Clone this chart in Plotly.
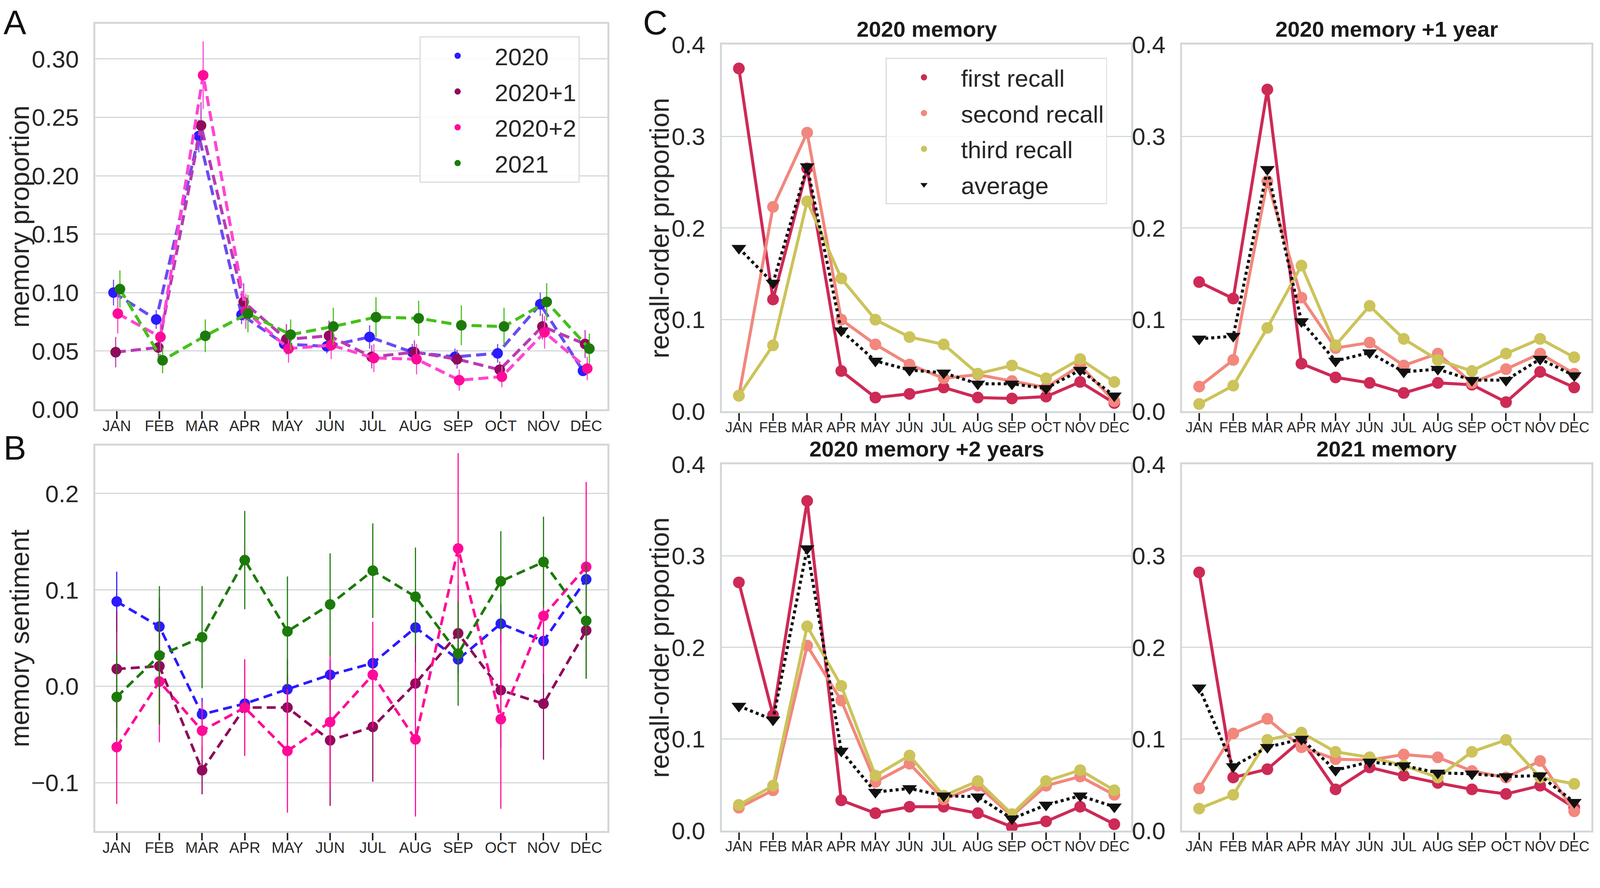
import plotly.graph_objects as go

months = ["JAN", "FEB", "MAR", "APR", "MAY", "JUN", "JUL", "AUG", "SEP", "OCT", "NOV", "DEC"]
month_idx = list(range(12))

# panel A: memory proportion per month (with error)
prop_2020 = [0.100, 0.077, 0.234, 0.081, 0.056, 0.054, 0.062, 0.049, 0.045, 0.048, 0.090, 0.033]
prop_2020_err = [0.011, 0.008, 0.014, 0.008, 0.006, 0.006, 0.010, 0.007, 0.007, 0.008, 0.010, 0.004]
prop_2020p1 = [0.049, 0.053, 0.243, 0.092, 0.060, 0.063, 0.045, 0.049, 0.043, 0.034, 0.071, 0.056]
prop_2020p1_err = [0.013, 0.010, 0.020, 0.016, 0.013, 0.013, 0.010, 0.010, 0.008, 0.007, 0.011, 0.012]
prop_2020p2 = [0.082, 0.062, 0.286, 0.084, 0.052, 0.055, 0.044, 0.043, 0.025, 0.028, 0.066, 0.035]
prop_2020p2_err = [0.017, 0.012, 0.029, 0.015, 0.012, 0.012, 0.012, 0.013, 0.009, 0.009, 0.014, 0.010]
prop_2021 = [0.103, 0.042, 0.063, 0.082, 0.064, 0.071, 0.079, 0.078, 0.072, 0.071, 0.092, 0.052]
prop_2021_err = [0.016, 0.011, 0.014, 0.016, 0.013, 0.016, 0.017, 0.015, 0.017, 0.016, 0.016, 0.013]

# panel B: memory sentiment per month (with error)
sent_2020 = [0.088, 0.062, -0.029, -0.018, -0.003, 0.012, 0.024, 0.061, 0.028, 0.065, 0.047, 0.111]
sent_2020_err = [0.031, 0.030, 0.017, 0.015, 0.015, 0.015, 0.015, 0.020, 0.015, 0.020, 0.020, 0.020]
sent_2020p1 = [0.018, 0.021, -0.087, -0.022, -0.022, -0.056, -0.042, 0.003, 0.055, -0.004, -0.018, 0.058]
sent_2020p1_err = [0.060, 0.060, 0.025, 0.050, 0.050, 0.068, 0.057, 0.055, 0.050, 0.060, 0.058, 0.050]
sent_2020p2 = [-0.063, 0.005, -0.046, -0.022, -0.067, -0.037, 0.012, -0.055, 0.143, -0.034, 0.073, 0.124]
sent_2020p2_err = [0.059, 0.063, 0.030, 0.050, 0.064, 0.070, 0.055, 0.080, 0.099, 0.093, 0.060, 0.088]
sent_2021 = [-0.011, 0.032, 0.051, 0.131, 0.057, 0.085, 0.120, 0.093, 0.034, 0.109, 0.129, 0.068]
sent_2021_err = [0.045, 0.072, 0.053, 0.051, 0.057, 0.053, 0.049, 0.051, 0.054, 0.052, 0.047, 0.060]

# panel C: recall-order proportion
c2020_first = [0.374, 0.122, 0.265, 0.044, 0.015, 0.019, 0.026, 0.015, 0.014, 0.016, 0.032, 0.009]
c2020_second = [0.017, 0.223, 0.304, 0.100, 0.073, 0.051, 0.036, 0.040, 0.033, 0.026, 0.050, 0.011]
c2020_third = [0.017, 0.072, 0.229, 0.145, 0.100, 0.081, 0.073, 0.041, 0.050, 0.036, 0.057, 0.032]
c2020_avg = [0.178, 0.140, 0.267, 0.088, 0.055, 0.045, 0.042, 0.030, 0.030, 0.025, 0.045, 0.017]

c2020p1_first = [0.141, 0.123, 0.351, 0.052, 0.037, 0.031, 0.020, 0.031, 0.029, 0.010, 0.043, 0.026]
c2020p1_second = [0.027, 0.056, 0.251, 0.124, 0.069, 0.075, 0.050, 0.063, 0.031, 0.046, 0.063, 0.041]
c2020p1_third = [0.008, 0.028, 0.091, 0.159, 0.072, 0.115, 0.079, 0.056, 0.044, 0.063, 0.079, 0.059]
c2020p1_avg = [0.079, 0.082, 0.264, 0.098, 0.055, 0.064, 0.043, 0.046, 0.034, 0.034, 0.057, 0.039]

c2020p2_first = [0.271, 0.126, 0.360, 0.033, 0.019, 0.026, 0.026, 0.019, 0.004, 0.010, 0.026, 0.007]
c2020p2_second = [0.025, 0.044, 0.202, 0.142, 0.053, 0.073, 0.034, 0.049, 0.016, 0.049, 0.059, 0.039]
c2020p2_third = [0.028, 0.049, 0.223, 0.158, 0.060, 0.082, 0.038, 0.054, 0.018, 0.054, 0.066, 0.044]
c2020p2_avg = [0.136, 0.121, 0.308, 0.087, 0.042, 0.046, 0.038, 0.037, 0.013, 0.028, 0.038, 0.026]

c2021_first = [0.282, 0.058, 0.067, 0.099, 0.045, 0.069, 0.060, 0.052, 0.045, 0.040, 0.049, 0.025]
c2021_second = [0.046, 0.106, 0.122, 0.091, 0.078, 0.077, 0.083, 0.080, 0.065, 0.058, 0.076, 0.021]
c2021_third = [0.024, 0.039, 0.099, 0.107, 0.086, 0.080, 0.071, 0.058, 0.086, 0.099, 0.058, 0.051]
c2021_avg = [0.156, 0.070, 0.091, 0.100, 0.066, 0.075, 0.071, 0.063, 0.062, 0.059, 0.060, 0.031]

# the page renders slightly enlarged and the body has an 8px margin,
# so everything below is given in target-image pixels and converted here
S = 1.032
PAD = 8
W = int(4220 / S) - 18
H = int(2274 / S) - 17


def sz(v):
    return v / S


def dom_x(l, r):
    return [(l / S - PAD) / W, (r / S - PAD) / W]


def dom_y(t, b):
    return [1 - (b / S - PAD) / H, 1 - (t / S - PAD) / H]


def px_x(x):
    return (x / S - PAD) / W


def px_y(y):
    return 1 - (y / S - PAD) / H


FONT = "Liberation Sans, Arial, sans-serif"
TXT = "#262626"
FRAME = "#d3d8d9"

year_dark = {"2020": "#2b1bff", "2020+1": "#8f0b5b", "2020+2": "#ff0a98", "2021": "#1c7a0a"}
year_light = {"2020": "#6a4cf2", "2020+1": "#b93bb5", "2020+2": "#ff45d5", "2021": "#45c01a"}
recall_col = {"first recall": "#cd2a56", "second recall": "#f2877d",
              "third recall": "#ccc35a", "average": "#111111"}

fig = go.Figure()

# ---- panel A
series_a = [("2020", prop_2020, prop_2020_err, -0.075),
            ("2020+1", prop_2020p1, prop_2020p1_err, -0.025),
            ("2020+2", prop_2020p2, prop_2020p2_err, 0.025),
            ("2021", prop_2021, prop_2021_err, 0.075)]
dash_a = "%dpx,%dpx" % (round(sz(27)), round(sz(13)))
for name, vals, errs, off in series_a:
    xs = [i + off for i in month_idx]
    fig.add_trace(go.Scatter(x=xs, y=vals, mode="lines", showlegend=False, hoverinfo="skip",
                             legendgroup="a" + name,
                             line=dict(color=year_light[name], width=sz(8), dash=dash_a),
                             xaxis="x", yaxis="y"))
    fig.add_trace(go.Scatter(x=xs, y=vals, mode="markers", name=name, legend="legend",
                             legendgroup="a" + name,
                             marker=dict(color=year_dark[name], size=sz(28)),
                             error_y=dict(type="data", array=errs, color=year_light[name],
                                          thickness=sz(3), width=0),
                             xaxis="x", yaxis="y"))

# ---- panel B
series_b = [("2020", sent_2020, sent_2020_err),
            ("2020+1", sent_2020p1, sent_2020p1_err),
            ("2020+2", sent_2020p2, sent_2020p2_err),
            ("2021", sent_2021, sent_2021_err)]
dash_b = "%dpx,%dpx" % (round(sz(24)), round(sz(13)))
for name, vals, errs in series_b:
    fig.add_trace(go.Scatter(x=month_idx, y=vals, mode="lines", showlegend=False, hoverinfo="skip",
                             line=dict(color=year_dark[name], width=sz(7), dash=dash_b),
                             xaxis="x2", yaxis="y2"))
    fig.add_trace(go.Scatter(x=month_idx, y=vals, mode="markers", showlegend=False,
                             marker=dict(color=year_dark[name], size=sz(28)),
                             error_y=dict(type="data", array=errs, color=year_dark[name],
                                          thickness=sz(3), width=0),
                             xaxis="x2", yaxis="y2"))

# ---- panel C
panels_c = [("x3", "y3", [c2020_first, c2020_second, c2020_third, c2020_avg]),
            ("x4", "y4", [c2020p1_first, c2020p1_second, c2020p1_third, c2020p1_avg]),
            ("x5", "y5", [c2020p2_first, c2020p2_second, c2020p2_third, c2020p2_avg]),
            ("x6", "y6", [c2021_first, c2021_second, c2021_third, c2021_avg])]
names_c = ["first recall", "second recall", "third recall", "average"]
for k, (xa, ya, group) in enumerate(panels_c):
    for name, vals in zip(names_c, group):
        is_avg = name == "average"
        fig.add_trace(go.Scatter(x=month_idx, y=vals, mode="lines", showlegend=False, hoverinfo="skip",
                                 legendgroup="c" + name,
                                 line=dict(color=recall_col[name], width=sz(8),
                                           dash="dot" if is_avg else "solid"),
                                 xaxis=xa, yaxis=ya))
        fig.add_trace(go.Scatter(x=month_idx, y=vals, mode="markers", name=name,
                                 showlegend=(k == 0), legend="legend2", legendgroup="c" + name,
                                 marker=dict(color=recall_col[name], size=sz(34 if is_avg else 31),
                                             symbol="triangle-down" if is_avg else "circle"),
                                 xaxis=xa, yaxis=ya))


def xax(domain, anchor, fsize):
    return dict(domain=domain, anchor=anchor, range=[-0.5, 11.5], tickvals=month_idx, ticktext=months,
                ticks="outside", ticklen=sz(20), tickwidth=sz(4), tickcolor="#222222",
                tickfont=dict(size=sz(fsize), color=TXT), ticklabelstandoff=-15,
                showgrid=False, zeroline=False,
                showline=True, mirror=True, linecolor=FRAME, linewidth=sz(5), automargin=False)


def yax(domain, anchor, rng, tickvals, fmt):
    return dict(domain=domain, anchor=anchor, range=rng, tickvals=tickvals, tickformat=fmt,
                tickfont=dict(size=sz(64), color=TXT), ticklabelstandoff=int(sz(26)),
                showgrid=True, gridcolor=FRAME, gridwidth=sz(3), zeroline=False,
                showline=True, mirror=True, linecolor=FRAME, linewidth=sz(5), automargin=False)


ax_a, ay_a = dom_x(252, 1605), dom_y(63, 1082)
ay_b = dom_y(1177, 2196)
cx_l, cx_r = dom_x(1907, 2989), dom_x(3123, 4204)
cy_t, cy_b = dom_y(118, 1087), dom_y(1227, 2195)

c_ticks = [0, 0.1, 0.2, 0.3, 0.4]
legend_style = dict(xanchor="left", yanchor="top", bgcolor="rgba(255,255,255,0.85)",
                    bordercolor="#dcdcdc", borderwidth=sz(3), font=dict(size=sz(64), color=TXT),
                    itemwidth=180, tracegroupgap=8)
fig.update_layout(
    width=W, height=H,
    margin=dict(l=0, r=0, t=0, b=0),
    paper_bgcolor="white", plot_bgcolor="white",
    font=dict(family=FONT, color=TXT),
    xaxis=xax(ax_a, "y", 40),
    yaxis=yax(ay_a, "x", [0, 0.33], [0, 0.05, 0.10, 0.15, 0.20, 0.25, 0.30], ".2f"),
    xaxis2=xax(ax_a, "y2", 40),
    yaxis2=yax(ay_b, "x2", [-0.15, 0.25], [-0.1, 0, 0.1, 0.2], ".1f"),
    xaxis3=xax(cx_l, "y3", 38),
    yaxis3=yax(cy_t, "x3", [0, 0.4], c_ticks, ".1f"),
    xaxis4=xax(cx_r, "y4", 38),
    yaxis4=yax(cy_t, "x4", [0, 0.4], c_ticks, ".1f"),
    xaxis5=xax(cx_l, "y5", 38),
    yaxis5=yax(cy_b, "x5", [0, 0.4], c_ticks, ".1f"),
    xaxis6=xax(cx_r, "y6", 38),
    yaxis6=yax(cy_b, "x6", [0, 0.4], c_ticks, ".1f"),
    legend=dict(x=px_x(1108), y=px_y(96), **legend_style),
    legend2=dict(x=px_x(2340), y=px_y(153), **legend_style),
)

# y-axis titles, centred on each panel's vertical extent
y_titles = [("memory proportion", 52, ay_a), ("memory sentiment", 52, ay_b),
            ("recall-order proportion", 1743, cy_t), ("recall-order proportion", 1743, cy_b)]
for text, tx, dy in y_titles:
    fig.add_annotation(text=text, x=px_x(tx), y=(dy[0] + dy[1]) / 2, textangle=-90,
                       xref="paper", yref="paper", xanchor="center", yanchor="middle",
                       showarrow=False, borderpad=0, font=dict(size=sz(70), color=TXT))

# subplot titles
titles_c = [("2020 memory", cx_l, cy_t), ("2020 memory +1 year", cx_r, cy_t),
            ("2020 memory +2 years", cx_l, cy_b), ("2021 memory", cx_r, cy_b)]
for text, dx, dy in titles_c:
    fig.add_annotation(text="<b>" + text + "</b>", x=(dx[0] + dx[1]) / 2, y=dy[1] + 6 / H,
                       xref="paper", yref="paper", xanchor="center", yanchor="bottom",
                       showarrow=False, font=dict(size=sz(58), color="#1a1a1a"))

# panel letters, kept just inside the page edges
letter_font = dict(size=sz(90), color="#111111")
fig.add_annotation(text="A", x=0, y=1, xref="paper", yref="paper", xanchor="left", yanchor="top",
                   showarrow=False, borderpad=0, font=letter_font)
fig.add_annotation(text="B", x=0, y=px_y(1183), xref="paper", yref="paper", xanchor="left",
                   yanchor="middle", showarrow=False, borderpad=0, font=letter_font)
fig.add_annotation(text="C", x=px_x(1731), y=1, xref="paper", yref="paper", xanchor="center",
                   yanchor="top", showarrow=False, borderpad=0, font=letter_font)

fig.write_html("out.html")
